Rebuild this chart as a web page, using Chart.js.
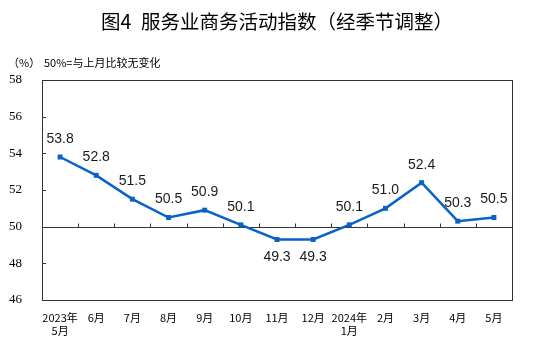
<!DOCTYPE html>
<html>
<head>
<meta charset="utf-8">
<script src="https://cdn.jsdelivr.net/npm/chart.js@4"></script>
<style>
html,body{margin:0;padding:0;background:#fff}
#wrap{width:553px;height:343px;position:relative}
</style>
</head>
<body>
<div id="wrap"><canvas id="chart"></canvas></div>
<script>
var months = [["2023年","5月"],"6月","7月","8月","9月","10月","11月","12月",["2024年","1月"],"2月","3月","4月","5月"];
var values = [53.8,52.8,51.5,50.5,50.9,50.1,49.3,49.3,50.1,51.0,52.4,50.3,50.5];
var yTicks = [46,48,50,52,54,56,58];
var chartTitle = "图4\u2002服务业商务活动指数（经季节调整）";
var unitText = "（%）";
var noteText = "50%=与上月比较无变化";

var lineColor = '#0a62c6';
var frameColor = '#333333';

// frame, 50 baseline and inward ticks
var framePlugin = {
    id: 'frame',
    beforeDatasetsDraw: function(chart) {
        var ctx = chart.ctx, a = chart.chartArea;
        var x = chart.scales.x, y = chart.scales.y;
        ctx.save();
        ctx.strokeStyle = frameColor;
        ctx.lineWidth = 1;
        ctx.strokeRect(Math.round(a.left) + 0.5, Math.round(a.top) + 0.5,
            Math.round(a.right - a.left), Math.round(a.bottom - a.top));
        var y50 = Math.round(y.getPixelForValue(50)) + 0.5;
        ctx.beginPath();
        ctx.moveTo(a.left, y50);
        ctx.lineTo(a.right, y50);
        for (var i = 0; i < yTicks.length; i++) {
            var py = Math.round(y.getPixelForValue(yTicks[i])) + 0.5;
            ctx.moveTo(a.left, py);
            ctx.lineTo(a.left + 4, py);
        }
        for (var j = 0; j < months.length - 1; j++) {
            var px = Math.round((x.getPixelForValue(j) + x.getPixelForValue(j + 1)) / 2) + 0.5;
            ctx.moveTo(px, y50);
            ctx.lineTo(px, y50 - 4);
        }
        ctx.stroke();
        ctx.restore();
    }
};

// title, unit note and value labels
var textPlugin = {
    id: 'texts',
    afterDraw: function(chart) {
        var ctx = chart.ctx;
        ctx.save();
        ctx.fillStyle = '#000';
        ctx.textBaseline = 'middle';
        ctx.textAlign = 'center';
        ctx.font = '19.5px "Noto Sans CJK SC"';
        ctx.fillText(chartTitle, 277, 22);
        ctx.textAlign = 'left';
        ctx.font = '11px "Noto Sans CJK SC"';
        ctx.fillText(unitText, 8, 63);
        ctx.fillText(noteText, 44, 63);

        var meta = chart.getDatasetMeta(0);
        ctx.textAlign = 'center';
        ctx.font = '14px "Liberation Sans"';
        ctx.fillStyle = '#1a1a1a';
        meta.data.forEach(function(pt, i) {
            var v = values[i];
            var dy = v < 50 ? 18 : -18;
            ctx.fillText(v.toFixed(1), pt.x, pt.y + dy);
        });
        ctx.restore();
    }
};

new Chart(document.getElementById('chart'), {
    type: 'line',
    data: {
        labels: months,
        datasets: [{
            data: values,
            borderColor: lineColor,
            backgroundColor: lineColor,
            borderWidth: 2.5,
            pointStyle: 'rect',
            pointRadius: 3.5,
            pointBorderWidth: 0,
            tension: 0
        }]
    },
    options: {
        responsive: true,
        maintainAspectRatio: false,
        animation: false,
        layout: { padding: { left: 0, right: 41, top: 80, bottom: 0 } },
        plugins: { legend: { display: false }, tooltip: { enabled: false } },
        scales: {
            x: {
                type: 'category',
                offset: true,
                grid: { display: false },
                border: { display: false },
                ticks: {
                    color: '#000',
                    font: { family: '"Noto Sans CJK SC"', size: 11, lineHeight: 1.2 },
                    padding: 3,
                    maxRotation: 0,
                    autoSkip: false
                },
                afterFit: function(s) { s.height = 43; }
            },
            y: {
                min: 46,
                max: 58,
                grid: { display: false },
                border: { display: false },
                ticks: {
                    color: '#000',
                    font: { family: '"Liberation Serif"', size: 13 },
                    padding: 12
                },
                afterBuildTicks: function(s) { s.ticks = yTicks.map(function(v) { return { value: v }; }); },
                afterFit: function(s) { s.width = 42; }
            }
        }
    },
    plugins: [framePlugin, textPlugin]
});
</script>
</body>
</html>
